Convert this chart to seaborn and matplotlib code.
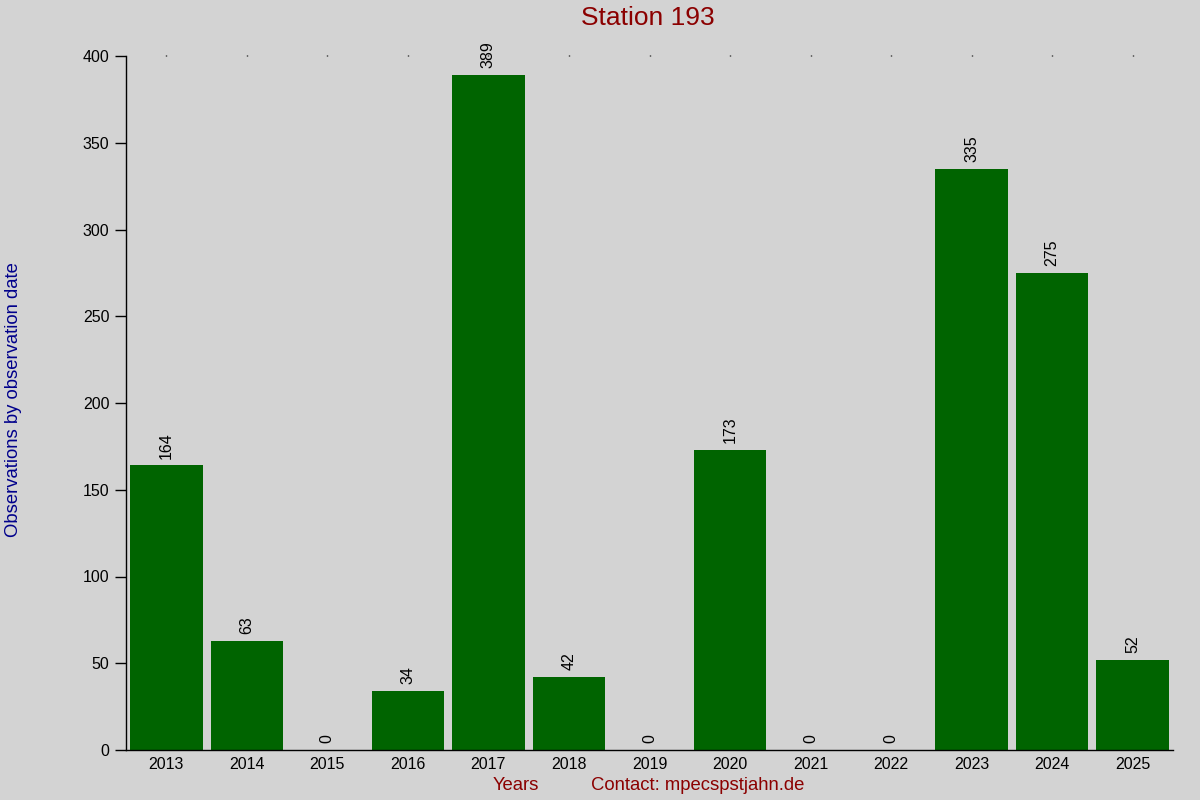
import matplotlib
matplotlib.use("Agg")
import matplotlib.pyplot as plt
import seaborn as sns
import pandas as pd

# observations per year for the station
years = ["2013", "2014", "2015", "2016", "2017", "2018", "2019",
         "2020", "2021", "2022", "2023", "2024", "2025"]
counts = [164, 63, 0, 34, 389, 42, 0, 173, 0, 0, 335, 275, 52]

title = "Station 193"
ylabel = "Observations by observation date"
xlabel = "Years"
contact = "Contact: mpecspstjahn.de"

bg = "#d3d3d3"

sns.set_style("white")
plt.rcParams["font.family"] = ["Liberation Sans", "DejaVu Sans"]

df = pd.DataFrame({"year": years, "count": counts})

fig = plt.figure(figsize=(12, 8), dpi=100, facecolor=bg)
ax = fig.add_axes([0.105, 0.0625, 0.8725, 0.8675])
ax.set_facecolor(bg)

sns.barplot(data=df, x="year", y="count", color="#006400", saturation=1,
            width=0.9, linewidth=0, ax=ax)
for c in ax.containers:
    ax.bar_label(c, padding=5, rotation=90, fontsize=11.5, color="black")

ax.set_xlim(-0.5, len(years) - 0.5)
ax.set_ylim(0, 400)
ax.set_yticks(range(0, 401, 50))

for s in ["top", "right"]:
    ax.spines[s].set_visible(False)
for s in ["left", "bottom"]:
    ax.spines[s].set_color("black")
    ax.spines[s].set_linewidth(1)

ax.tick_params(axis="y", left=True, length=8, width=1, color="black",
               labelcolor="black", labelsize=11.5, pad=4)
ax.tick_params(axis="x", bottom=False, top=True, length=1, width=1,
               color="black", labelcolor="black", labelsize=11.5, pad=4)

ax.set_xlabel("")
ax.set_ylabel("")
fig.text(0.54, 0.977, title, ha="center", va="center", fontsize=19,
         color="#8b0000")
fig.text(0.011, 0.5, ylabel, ha="center", va="center", rotation=90,
         fontsize=13.3, color="#00008b")
fig.text(0.43, 0.018, xlabel, ha="center", va="center", fontsize=13.3,
         color="#8b0000")
fig.text(0.581, 0.018, contact, ha="center", va="center", fontsize=13.3,
         color="#8b0000")

fig.savefig("out.png", dpi=100, facecolor=bg)
